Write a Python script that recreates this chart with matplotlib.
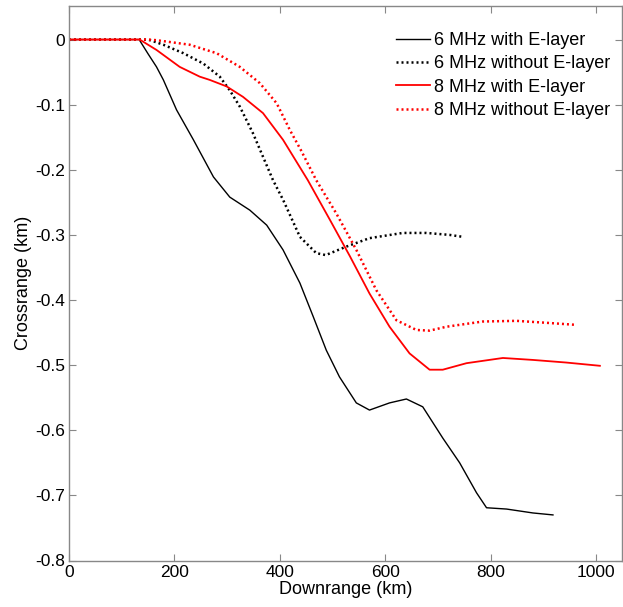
import numpy as np
import matplotlib
matplotlib.use("Agg")
import matplotlib.pyplot as plt

plt.rcParams["font.family"] = ["Liberation Sans", "DejaVu Sans"]
plt.rcParams["axes.unicode_minus"] = False

# 6 MHz with E-layer
x6e = [0, 133, 150, 166, 179, 204, 236, 274, 305, 343, 375, 406, 438, 463,
       488, 513, 545, 570, 608, 640, 671, 709, 741, 773, 792, 830, 880, 918]
y6e = [0, 0, -0.022, -0.042, -0.062, -0.108, -0.154, -0.211, -0.242, -0.262,
       -0.285, -0.323, -0.374, -0.425, -0.477, -0.518, -0.558, -0.569, -0.558,
       -0.552, -0.564, -0.612, -0.650, -0.696, -0.719, -0.721, -0.727, -0.730]

# 6 MHz without E-layer
x6n = [0, 140, 154, 179, 217, 255, 286, 305, 324, 349, 387, 406, 438, 469,
       487, 526, 570, 633, 678, 722, 747]
y6n = [0, 0, -0.001, -0.008, -0.021, -0.037, -0.057, -0.078, -0.103, -0.144,
       -0.216, -0.246, -0.303, -0.328, -0.331, -0.318, -0.305, -0.297, -0.297,
       -0.300, -0.303]

# 8 MHz with E-layer
x8e = [0, 134, 166, 210, 248, 267, 299, 330, 368, 406, 453, 495, 533, 570,
       608, 646, 684, 709, 754, 823, 880, 943, 1007]
y8e = [0, 0, -0.016, -0.042, -0.057, -0.062, -0.072, -0.088, -0.113, -0.154,
       -0.216, -0.277, -0.333, -0.390, -0.441, -0.482, -0.507, -0.507, -0.497,
       -0.489, -0.492, -0.496, -0.501]

# 8 MHz without E-layer
x8n = [0, 150, 166, 229, 280, 324, 362, 394, 419, 440, 469, 507, 545, 583,
       621, 659, 684, 716, 785, 849, 906, 959]
y8n = [0, 0, -0.001, -0.008, -0.021, -0.042, -0.067, -0.098, -0.139, -0.170,
       -0.216, -0.267, -0.323, -0.385, -0.431, -0.446, -0.447, -0.441, -0.433,
       -0.432, -0.435, -0.438]

xticks = [0, 200, 400, 600, 800, 1000]
yticks = [0, -0.1, -0.2, -0.3, -0.4, -0.5, -0.6, -0.7, -0.8]
yticklabels = ["0", "-0.1", "-0.2", "-0.3", "-0.4", "-0.5", "-0.6", "-0.7", "-0.8"]

fig = plt.figure(figsize=(6.23, 6.07), dpi=100)
ax = fig.add_axes([69 / 623, 1 - 560.5 / 607, 552.5 / 623, 554.5 / 607])

ax.plot(x6e, y6e, color="black", lw=1.0, label="6 MHz with E-layer")
ax.plot(x6n, y6n, color="black", lw=1.8, ls=(0, (0.8, 1.2)), label="6 MHz without E-layer")
ax.plot(x8e, y8e, color="red", lw=1.3, label="8 MHz with E-layer")
ax.plot(x8n, y8n, color="red", lw=1.8, ls=(0, (0.8, 1.2)), label="8 MHz without E-layer")

ax.set_xlim(0, 1048)
ax.set_ylim(-0.8, 0.0515)
ax.set_xticks(xticks)
ax.set_yticks(yticks)
ax.set_yticklabels(yticklabels)
ax.tick_params(direction="in", top=True, right=True, length=5, width=0.8,
               color="#888888", labelsize=12.5, pad=3)
for s in ax.spines.values():
    s.set_color("#888888")
    s.set_linewidth(1.0)

ax.set_xlabel("Downrange (km)", fontsize=13, labelpad=1)
ax.set_ylabel("Crossrange (km)", fontsize=13, labelpad=2)

ax.legend(loc="upper right", bbox_to_anchor=(0.992, 0.966), borderaxespad=0,
          frameon=False, fontsize=13, handlelength=1.9, handletextpad=0.2,
          labelspacing=0.35)

fig.savefig("out.png", dpi=100)
